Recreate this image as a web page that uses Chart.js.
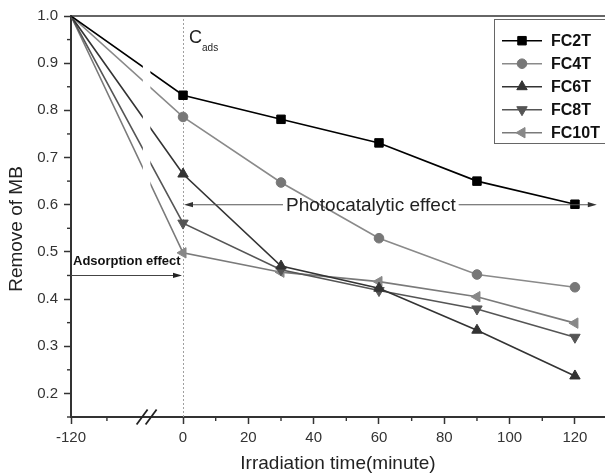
<!DOCTYPE html>
<html><head><meta charset="utf-8">
<script src="https://cdn.jsdelivr.net/npm/chart.js@4"></script>
<style>html,body{margin:0;padding:0;background:#fff}#wrap{width:605px;height:474px}</style>
</head><body><div id="wrap"><canvas id="c" width="605" height="474"></canvas></div>
<script>
// ---------- data ----------
const TIMES = [-120, 0, 30, 60, 90, 120];
const SERIES_NAMES = ['FC2T', 'FC4T', 'FC6T', 'FC8T', 'FC10T'];
const FC2T  = [1.0, 0.832, 0.781, 0.731, 0.650, 0.601];
const FC4T  = [1.0, 0.786, 0.647, 0.529, 0.452, 0.425];
const FC6T  = [1.0, 0.665, 0.470, 0.423, 0.334, 0.237];
const FC8T  = [1.0, 0.561, 0.462, 0.418, 0.379, 0.319];
const FC10T = [1.0, 0.498, 0.457, 0.437, 0.405, 0.349];
const X_TICKS = [-120, 0, 20, 40, 60, 80, 100, 120];
const X_MINOR = [-110, 10, 30, 50, 70, 90, 110];
const Y_TICKS = [0.2, 0.3, 0.4, 0.5, 0.6, 0.7, 0.8, 0.9, 1.0];
const Y_MINOR = [0.15, 0.25, 0.35, 0.45, 0.55, 0.65, 0.75, 0.85, 0.95];
const BREAK = [-100, -10];
const Y_TITLE = 'Remove of MB';
const X_TITLE = 'Irradiation time(minute)';

// ---------- styles ----------
const FAMILY = "'Liberation Sans', Arial, sans-serif";
const LINE_COLORS  = ['#000000', '#8a8a8a', '#333333', '#555555', '#7a7a7a'];
const POINT_COLORS = ['#000000', '#777777', '#333333', '#555555', '#888888'];
const POINT_STYLES = ['rect', 'circle', 'triangle', 'triangle', 'triangle'];
const POINT_ROT    = [0, 0, 0, 180, -90];
const POINT_R      = [6, 4.8, 6, 6, 6];

// broken axis mapping (left segment compressed)
const LEFT_START = -34.3, LEFT_SCALE = 1.1;
function xPos(t) {
  if (t >= BREAK[1]) return t;
  const l = (v) => LEFT_START + (v + 120) * LEFT_SCALE;
  if (t <= BREAK[0]) return l(t);
  const a = l(BREAK[0]), b = BREAK[1];
  return a + (t - BREAK[0]) / (BREAK[1] - BREAK[0]) * (b - a);
}

const SERIES_VALUES = [FC2T, FC4T, FC6T, FC8T, FC10T];
const datasets = SERIES_NAMES.map((name, i) => ({
  label: name,
  data: TIMES.map((t, j) => ({ x: xPos(t), y: SERIES_VALUES[i][j] })),
  borderColor: LINE_COLORS[i],
  backgroundColor: POINT_COLORS[i],
  pointBackgroundColor: POINT_COLORS[i],
  pointBorderColor: POINT_COLORS[i],
  pointStyle: POINT_STYLES[i],
  pointRotation: POINT_ROT[i],
  pointRadius: (ctx) => ctx.dataIndex === 0 ? 0 : POINT_R[i],
  pointBorderWidth: 1,
  borderWidth: 1.6,
  tension: 0,
  fill: false
}));

function drawMarker(ctx, style, r, rot, x, y, color) {
  ctx.save();
  ctx.fillStyle = color; ctx.strokeStyle = color; ctx.lineWidth = 1;
  ctx.beginPath();
  if (style === 'rect') {
    const s = Math.SQRT1_2 * r;
    ctx.rect(x - s, y - s, 2 * s, 2 * s);
  } else if (style === 'circle') {
    ctx.arc(x, y, r, 0, Math.PI * 2);
  } else {
    let rad = rot * Math.PI / 180;
    ctx.moveTo(x + Math.sin(rad) * r, y - Math.cos(rad) * r);
    rad += 2 * Math.PI / 3;
    ctx.lineTo(x + Math.sin(rad) * r, y - Math.cos(rad) * r);
    rad += 2 * Math.PI / 3;
    ctx.lineTo(x + Math.sin(rad) * r, y - Math.cos(rad) * r);
    ctx.closePath();
  }
  ctx.fill(); ctx.stroke();
  ctx.restore();
}

function arrow(ctx, x1, y1, x2, y2) {
  const dir = Math.sign(x2 - x1);
  ctx.beginPath(); ctx.moveTo(x1, y1); ctx.lineTo(x2 - dir * 6, y2); ctx.stroke();
  ctx.beginPath();
  ctx.moveTo(x2, y2);
  ctx.lineTo(x2 - dir * 9, y2 - 2.6);
  ctx.lineTo(x2 - dir * 9, y2 + 2.6);
  ctx.closePath(); ctx.fill();
}

const deco = {
  id: 'deco',
  beforeDatasetsDraw(chart) {
    const { ctx, chartArea: a, scales: { x } } = chart;
    const px = Math.round(x.getPixelForValue(xPos(0))) + 0.5;
    ctx.save();
    ctx.strokeStyle = '#a0a0a0'; ctx.lineWidth = 1; ctx.setLineDash([2, 2]);
    ctx.beginPath(); ctx.moveTo(px, a.top + 3); ctx.lineTo(px, a.bottom); ctx.stroke();
    ctx.restore();
  },
  afterDatasetsDraw(chart) {
    const { ctx, chartArea: a, scales: { x } } = chart;
    const x1 = x.getPixelForValue(xPos(BREAK[0])), x2 = x.getPixelForValue(BREAK[1]);
    ctx.save(); ctx.fillStyle = '#fff';
    ctx.fillRect(x1, a.top + 2, x2 - x1, a.bottom - a.top - 4);
    ctx.restore();
  },
  afterDraw(chart) {
    const { ctx, chartArea: a, scales: { x, y } } = chart;
    ctx.save();
    // y-axis title
    ctx.save();
    ctx.translate(17, 229); ctx.rotate(-Math.PI / 2);
    ctx.fillStyle = '#222'; ctx.font = '19px ' + FAMILY;
    ctx.textAlign = 'center'; ctx.textBaseline = 'middle';
    ctx.fillText(Y_TITLE, 0, 0);
    ctx.restore();
    // top frame
    ctx.strokeStyle = '#333'; ctx.lineWidth = 1.6;
    ctx.beginPath(); ctx.moveTo(a.left, a.top); ctx.lineTo(a.right + 2, a.top); ctx.stroke();
    // minor ticks
    ctx.lineWidth = 1.4;
    X_MINOR.forEach(t => {
      const px = x.getPixelForValue(xPos(t));
      ctx.beginPath(); ctx.moveTo(px, a.bottom); ctx.lineTo(px, a.bottom + 4); ctx.stroke();
    });
    Y_MINOR.forEach(v => {
      const py = y.getPixelForValue(v);
      ctx.beginPath(); ctx.moveTo(a.left, py); ctx.lineTo(a.left - 4, py); ctx.stroke();
    });
    // break marks
    const cx = (x.getPixelForValue(xPos(BREAK[0])) + x.getPixelForValue(BREAK[1])) / 2;
    ctx.lineWidth = 1.8; ctx.strokeStyle = '#222';
    [-4.5, 4.5].forEach(d => {
      ctx.beginPath();
      ctx.moveTo(cx + d - 5.5, a.bottom + 7.5);
      ctx.lineTo(cx + d + 5.5, a.bottom - 7.5);
      ctx.stroke();
    });
    // C_ads label
    const x0 = x.getPixelForValue(xPos(0));
    ctx.fillStyle = '#222';
    ctx.textBaseline = 'alphabetic'; ctx.textAlign = 'left';
    ctx.font = '18px ' + FAMILY; ctx.fillText('C', x0 + 6, 43);
    ctx.font = '10px ' + FAMILY; ctx.fillText('ads', x0 + 19, 51);
    // Photocatalytic effect
    ctx.font = '19px ' + FAMILY;
    const ty = y.getPixelForValue(0.6);
    const txt = 'Photocatalytic effect';
    const tw = ctx.measureText(txt).width;
    const tcx = x.getPixelForValue(57.5);
    ctx.textBaseline = 'middle'; ctx.textAlign = 'center';
    ctx.fillText(txt, tcx, ty + 1);
    ctx.strokeStyle = '#555'; ctx.fillStyle = '#333'; ctx.lineWidth = 1.1;
    arrow(ctx, tcx - tw / 2 - 3, ty, x0 + 1, ty);
    arrow(ctx, tcx + tw / 2 + 3, ty, x.getPixelForValue(126.7), ty);
    // Adsorption effect
    ctx.fillStyle = '#111';
    ctx.font = 'bold 13px ' + FAMILY; ctx.textAlign = 'left'; ctx.textBaseline = 'middle';
    ctx.fillText('Adsorption effect', a.left + 2, y.getPixelForValue(0.48));
    const ay = y.getPixelForValue(0.45);
    ctx.strokeStyle = '#444'; ctx.fillStyle = '#222';
    arrow(ctx, a.left, ay, x0 - 1, ay);
    // legend
    const LX = 494.5, LY = 19.5, LH = 124;
    ctx.strokeStyle = '#666'; ctx.lineWidth = 1;
    ctx.strokeRect(LX, LY, 140, LH);
    chart.data.datasets.forEach((ds, i) => {
      const iy = 40.7 + 23 * i;
      ctx.strokeStyle = ds.borderColor; ctx.lineWidth = 1.6;
      ctx.beginPath(); ctx.moveTo(502, iy); ctx.lineTo(542, iy); ctx.stroke();
      drawMarker(ctx, POINT_STYLES[i], POINT_R[i], POINT_ROT[i], 522, iy, POINT_COLORS[i]);
      ctx.fillStyle = '#111'; ctx.font = 'bold 16px ' + FAMILY;
      ctx.textAlign = 'left'; ctx.textBaseline = 'middle';
      ctx.fillText(ds.label, 551, iy + 1);
    });
    ctx.restore();
  }
};

const gridOpts = { display: true, drawOnChartArea: false, drawTicks: true, tickLength: 7, tickColor: '#333', tickWidth: 1.5 };
const borderOpts = { display: true, color: '#333', width: 2 };

new Chart(document.getElementById('c'), {
  type: 'line',
  data: { datasets },
  options: {
    responsive: false, animation: false, devicePixelRatio: 1,
    layout: { autoPadding: false, padding: { top: 16, right: 0, left: 0, bottom: 0 } },
    plugins: { legend: { display: false }, tooltip: { enabled: false } },
    scales: {
      x: {
        type: 'linear', min: xPos(-120), max: 129.2,
        afterBuildTicks: (s) => { s.ticks = X_TICKS.map(t => ({ value: xPos(t) })); },
        afterFit: (s) => { s.height = 57; s.paddingLeft = 0; s.paddingRight = 0; },
        ticks: { autoSkip: false, maxRotation: 0, padding: 5, color: '#333', font: { size: 15, family: FAMILY },
                 callback: (v, i) => String(X_TICKS[i]) },
        grid: gridOpts, border: borderOpts,
        title: { display: true, text: X_TITLE, color: '#222', font: { size: 19, family: FAMILY }, padding: { top: 0, bottom: -1 } }
      },
      y: {
        min: 0.15, max: 1.0,
        afterBuildTicks: (s) => { s.ticks = Y_TICKS.map(v => ({ value: v })); },
        afterFit: (s) => { s.width = 71; s.paddingTop = 0; s.paddingBottom = 0; },
        ticks: { padding: 6, color: '#333', font: { size: 15, family: FAMILY }, callback: (v) => Number(v).toFixed(1) },
        grid: gridOpts, border: borderOpts,
        title: { display: false, text: Y_TITLE }
      }
    }
  },
  plugins: [deco]
});
</script>
</body></html>
